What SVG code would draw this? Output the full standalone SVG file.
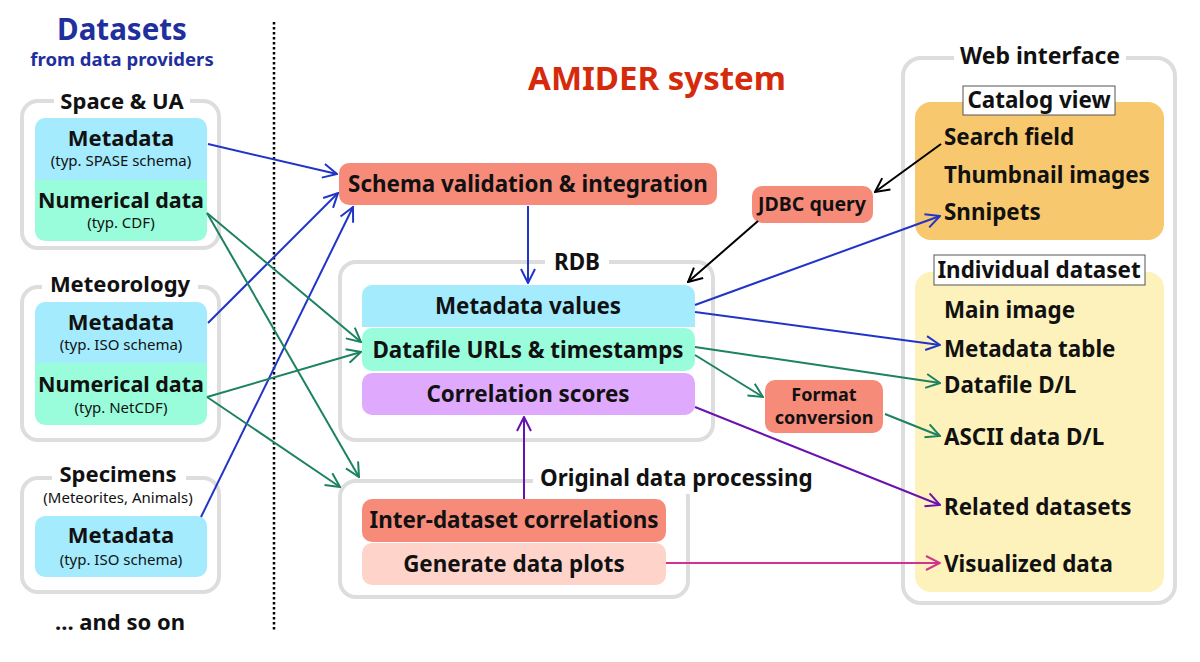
<svg xmlns="http://www.w3.org/2000/svg" width="1200" height="662" viewBox="0 0 1200 662">
<style>
text{font-family:"Noto Sans","DejaVu Sans",sans-serif;font-weight:bold;fill:#111;}
.c{text-anchor:middle;}
.t22{font-size:22.4px;}
.tl{font-size:22px;}
.t15{font-size:15px;font-weight:normal;}
.grp{fill:none;stroke:#dddddd;stroke-width:4;}
.wbg{fill:#ffffff;}
.meta{fill:#a3ebfd;}
.num{fill:#99fddb;}
.sal{fill:#f78b7a;}
.corr{fill:#dfa9fd;}
.pink{fill:#fed4ca;}
.item{font-size:22.4px;}
.ln{fill:none;stroke-width:2;}
.bl{stroke:#2134c8;}
.gr{stroke:#1c8260;}
.bk{stroke:#000;}
.pu{stroke:#6a12b0;}
.mg{stroke:#d2338f;}
</style>
<defs>
<marker id="mb" viewBox="0 0 16 16" refX="15" refY="8" markerWidth="16" markerHeight="16" markerUnits="userSpaceOnUse" orient="auto"><path d="M1,1 L15,8 L1,15" fill="none" stroke="#2134c8" stroke-width="2"/></marker>
<marker id="mg" viewBox="0 0 16 16" refX="15" refY="8" markerWidth="16" markerHeight="16" markerUnits="userSpaceOnUse" orient="auto"><path d="M1,1 L15,8 L1,15" fill="none" stroke="#1c8260" stroke-width="2"/></marker>
<marker id="mk" viewBox="0 0 16 16" refX="15" refY="8" markerWidth="16" markerHeight="16" markerUnits="userSpaceOnUse" orient="auto"><path d="M1,1 L15,8 L1,15" fill="none" stroke="#000" stroke-width="2"/></marker>
<marker id="mp" viewBox="0 0 16 16" refX="15" refY="8" markerWidth="16" markerHeight="16" markerUnits="userSpaceOnUse" orient="auto"><path d="M1,1 L15,8 L1,15" fill="none" stroke="#6a12b0" stroke-width="2"/></marker>
<marker id="mm" viewBox="0 0 16 16" refX="15" refY="8" markerWidth="16" markerHeight="16" markerUnits="userSpaceOnUse" orient="auto"><path d="M1,1 L15,8 L1,15" fill="none" stroke="#d2338f" stroke-width="2"/></marker>
</defs>
<rect width="1200" height="662" fill="#ffffff"/>

<g id="datasets-title">
<text class="c" x="122" y="40" style="font-size:29.5px;fill:#1f2f9e">Datasets</text>
<text class="c" x="122" y="66" style="font-size:18.5px;fill:#1f2f9e">from data providers</text>
</g>

<line x1="274" y1="22" x2="274" y2="632" stroke="#000" stroke-width="2.5" stroke-dasharray="2.5 2.5"/>

<g id="space-ua">
<rect class="grp" x="22" y="101" width="197" height="147" rx="16"/>
<rect class="wbg" x="54" y="88" width="136" height="24"/>
<text class="c tl" x="122" y="109">Space &amp; UA</text>
<path class="meta" d="M45,118 H197 A10,10 0 0 1 207,128 V180 H35 V128 A10,10 0 0 1 45,118 Z"/>
<path class="num" d="M35,180 H207 V231 A10,10 0 0 1 197,241 H45 A10,10 0 0 1 35,231 Z"/>
<text class="c tl" x="121" y="146">Metadata</text>
<text class="c t15" x="121" y="166">(typ. SPASE schema)</text>
<text class="c" x="121" y="208" style="font-size:21.5px">Numerical data</text>
<text class="c t15" x="121" y="228">(typ. CDF)</text>
</g>

<g id="meteorology">
<rect class="grp" x="22" y="287" width="197" height="153" rx="16"/>
<rect class="wbg" x="42" y="272" width="156" height="24"/>
<text class="c tl" x="120" y="292">Meteorology</text>
<path class="meta" d="M45,302 H197 A10,10 0 0 1 207,312 V363 H35 V312 A10,10 0 0 1 45,302 Z"/>
<path class="num" d="M35,363 H207 V415 A10,10 0 0 1 197,425 H45 A10,10 0 0 1 35,415 Z"/>
<text class="c tl" x="121" y="330">Metadata</text>
<text class="c t15" x="121" y="350">(typ. ISO schema)</text>
<text class="c" x="121" y="392" style="font-size:21.5px">Numerical data</text>
<text class="c t15" x="121" y="413">(typ. NetCDF)</text>
</g>

<g id="specimens">
<rect class="grp" x="22" y="478" width="197" height="114" rx="16"/>
<rect class="wbg" x="52" y="462" width="134" height="24"/>
<text class="c tl" x="118" y="482">Specimens</text>
<text class="c t15" x="118" y="503">(Meteorites, Animals)</text>
<rect class="meta" x="35" y="516" width="172" height="61" rx="10"/>
<text class="c tl" x="121" y="543">Metadata</text>
<text class="c t15" x="121" y="565">(typ. ISO schema)</text>
</g>

<g id="and-so-on">
<text class="c tl" x="120" y="630">... and so on</text>
</g>

<g id="amider-title">
<text class="c" x="657" y="90" style="font-size:33px;fill:#d52b0c">AMIDER system</text>
</g>

<g id="schema">
<rect class="sal" x="339" y="163" width="378" height="42" rx="10"/>
<text class="c t22" x="528" y="192">Schema validation &amp; integration</text>
</g>

<g id="rdb">
<rect class="grp" x="340" y="262" width="373" height="178" rx="16"/>
<rect class="wbg" x="545" y="248" width="64" height="24"/>
<text class="c t22" x="577" y="270">RDB</text>
<path class="meta" d="M372,285 H685 A10,10 0 0 1 695,295 V327 H362 V295 A10,10 0 0 1 372,285 Z"/>
<text class="c t22" x="528" y="314">Metadata values</text>
<rect class="num" x="362" y="328" width="333" height="43" rx="10"/>
<text class="c t22" x="528" y="358">Datafile URLs &amp; timestamps</text>
<rect class="corr" x="362" y="373" width="333" height="42" rx="10"/>
<text class="c t22" x="528" y="402">Correlation scores</text>
</g>

<g id="orig">
<rect class="grp" x="340" y="481" width="348" height="116" rx="16"/>
<rect class="wbg" x="533" y="460" width="290" height="34"/>
<text class="t22" x="540" y="486">Original data processing</text>
<rect class="sal" x="362" y="499" width="304" height="43" rx="10"/>
<text class="c t22" x="514" y="528">Inter-dataset correlations</text>
<rect class="pink" x="362" y="543" width="304" height="42" rx="10"/>
<text class="c t22" x="514" y="572">Generate data plots</text>
</g>

<g id="jdbc">
<rect class="sal" x="752" y="186" width="121" height="37" rx="10"/>
<text class="c" x="812" y="211" style="font-size:19.5px">JDBC query</text>
</g>

<g id="format">
<rect class="sal" x="765" y="380" width="118" height="53" rx="10"/>
<text class="c" x="824" y="401" style="font-size:18px">Format</text>
<text class="c" x="824" y="424" style="font-size:18px">conversion</text>
</g>

<g id="web">
<rect class="grp" x="903" y="58" width="272" height="545" rx="18"/>
<rect class="wbg" x="954" y="42" width="172" height="28"/>
<text class="c" x="1040" y="64" style="font-size:23px">Web interface</text>
<rect x="915" y="102" width="249" height="138" rx="16" fill="#f7c86e"/>
<rect x="963" y="86" width="152" height="29" fill="#fff" stroke="#555" stroke-width="1"/>
<text class="c t22" x="1039" y="108">Catalog view</text>
<text class="item" x="944" y="145">Search field</text>
<text class="item" x="944" y="183">Thumbnail images</text>
<text class="item" x="944" y="220">Snnipets</text>
<rect x="915" y="272" width="249" height="320" rx="16" fill="#fdf2bc"/>
<rect x="934" y="255" width="211" height="30" fill="#fff" stroke="#555" stroke-width="1"/>
<text class="c t22" x="1039" y="278">Individual dataset</text>
<text class="item" x="944" y="318">Main image</text>
<text class="item" x="944" y="357">Metadata table</text>
<text class="item" x="944" y="393">Datafile D/L</text>
<text class="item" x="944" y="445">ASCII data D/L</text>
<text class="item" x="944" y="515">Related datasets</text>
<text class="item" x="944" y="572">Visualized data</text>
</g>

<g id="connectors">
<line class="ln bl" x1="208" y1="144" x2="337" y2="174" marker-end="url(#mb)"/>
<line class="ln bl" x1="208" y1="323" x2="338" y2="193" marker-end="url(#mb)"/>
<line class="ln bl" x1="201" y1="517" x2="353" y2="207" marker-end="url(#mb)"/>
<line class="ln gr" x1="207" y1="213" x2="361" y2="342" marker-end="url(#mg)"/>
<line class="ln gr" x1="207" y1="213" x2="359" y2="477" marker-end="url(#mg)"/>
<line class="ln gr" x1="207" y1="397" x2="361" y2="352" marker-end="url(#mg)"/>
<line class="ln gr" x1="207" y1="397" x2="340" y2="487" marker-end="url(#mg)"/>
<line class="ln bl" x1="528" y1="206" x2="528" y2="283" marker-end="url(#mb)"/>
<line class="ln pu" x1="524" y1="499" x2="524" y2="417" marker-end="url(#mp)"/>
<line class="ln bk" x1="941" y1="144" x2="875" y2="192" marker-end="url(#mk)"/>
<line class="ln bk" x1="758" y1="221" x2="688" y2="282" marker-end="url(#mk)"/>
<line class="ln bl" x1="695" y1="305" x2="940" y2="216" marker-end="url(#mb)"/>
<line class="ln bl" x1="695" y1="312" x2="940" y2="345" marker-end="url(#mb)"/>
<line class="ln gr" x1="695" y1="347" x2="940" y2="383" marker-end="url(#mg)"/>
<line class="ln gr" x1="695" y1="355" x2="763" y2="397" marker-end="url(#mg)"/>
<line class="ln gr" x1="885" y1="414" x2="940" y2="436" marker-end="url(#mg)"/>
<line class="ln pu" x1="695" y1="407" x2="940" y2="505" marker-end="url(#mp)"/>
<line class="ln mg" x1="666" y1="563" x2="940" y2="563" marker-end="url(#mm)"/>
</g>
</svg>
